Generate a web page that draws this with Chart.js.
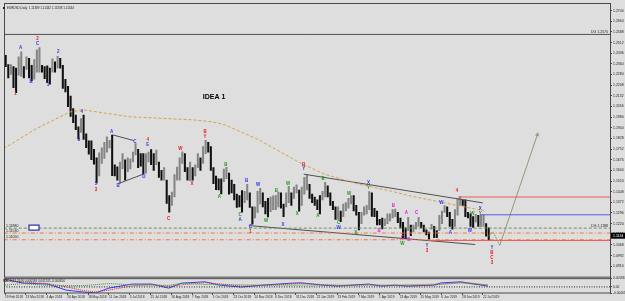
<!DOCTYPE html>
<html>
<head>
<meta charset="utf-8">
<script src="https://cdn.jsdelivr.net/npm/chart.js@4.4.1/dist/chart.umd.min.js"></script>
<style>
  html, body { margin: 0; padding: 0; overflow: hidden; background: #dedede; }
  canvas { display: block; }
</style>
</head>
<body>
<canvas id="chart" width="625" height="304"></canvas>
<script>
// EURUSD daily, every bar here = 2 trading days (high / low)
const barHighs = [
  1.2420,1.2355,1.2355,1.2340,1.2330,1.2410,1.2446,1.2340,1.2410,1.2400,
  1.2350,1.2390,1.2460,1.2476,1.2350,1.2340,1.2345,1.2330,1.2396,1.2375,
  1.2414,1.2400,1.2350,1.2250,1.2200,1.2130,1.2040,1.1995,1.1910,1.1970,
  1.1995,1.1860,1.1810,1.1810,1.1750,1.1690,1.1725,1.1760,1.1800,1.1840,
  1.1815,1.1852,1.1640,1.1625,1.1660,1.1720,1.1675,1.1690,1.1680,1.1730,
  1.1791,1.1750,1.1720,1.1720,1.1720,1.1730,1.1748,1.1720,1.1745,1.1660,
  1.1600,1.1620,1.1530,1.1420,1.1445,1.1570,1.1623,1.1690,1.1733,1.1720,
  1.1620,1.1660,1.1620,1.1640,1.1720,1.1690,1.1770,1.1815,1.1800,1.1770,
  1.1620,1.1560,1.1540,1.1540,1.1610,1.1621,1.1580,1.1530,1.1500,1.1430,
  1.1420,1.1455,1.1450,1.1500,1.1440,1.1340,1.1340,1.1450,1.1472,1.1440,
  1.1380,1.1400,1.1410,1.1419,1.1420,1.1445,1.1440,1.1360,1.1440,1.1486,
  1.1440,1.1480,1.1497,1.1460,1.1480,1.1550,1.1570,1.1500,1.1430,1.1410,
  1.1390,1.1420,1.1450,1.1514,1.1490,1.1440,1.1380,1.1340,1.1340,1.1310,
  1.1360,1.1370,1.1400,1.1420,1.1420,1.1350,1.1300,1.1300,1.1340,1.1350,
  1.1448,1.1440,1.1330,1.1310,1.1250,1.1260,1.1255,1.1290,1.1290,1.1320,
  1.1324,1.1300,1.1260,1.1230,1.1190,1.1265,1.1210,1.1210,1.1230,1.1265,
  1.1230,1.1210,1.1175,1.1160,1.1215,1.1200,1.1170,1.1280,1.1310,1.1348,
  1.1340,1.1300,1.1250,1.1320,1.1400,1.1412,1.1390,1.1390,1.1300,1.1290,
  1.1270,1.1286,1.1280,1.1280,1.1282,1.1220,1.1190
];
const barLows = [
  1.2340,1.2260,1.2285,1.2190,1.2155,1.2280,1.2270,1.2260,1.2320,1.2260,
  1.2240,1.2250,1.2300,1.2300,1.2300,1.2255,1.2225,1.2215,1.2300,1.2300,
  1.2330,1.2330,1.2185,1.2160,1.2055,1.1985,1.1940,1.1890,1.1823,1.1870,
  1.1820,1.1762,1.1716,1.1676,1.1645,1.1510,1.1560,1.1650,1.1685,1.1730,
  1.1760,1.1562,1.1560,1.1530,1.1508,1.1610,1.1530,1.1590,1.1610,1.1660,
  1.1710,1.1620,1.1630,1.1575,1.1580,1.1660,1.1640,1.1600,1.1640,1.1550,
  1.1530,1.1530,1.1365,1.1301,1.1350,1.1410,1.1530,1.1530,1.1650,1.1590,
  1.1530,1.1527,1.1530,1.1560,1.1620,1.1600,1.1650,1.1720,1.1730,1.1600,
  1.1505,1.1463,1.1460,1.1432,1.1520,1.1540,1.1430,1.1440,1.1390,1.1335,
  1.1340,1.1302,1.1370,1.1390,1.1335,1.1216,1.1260,1.1300,1.1360,1.1340,
  1.1290,1.1267,1.1305,1.1320,1.1320,1.1340,1.1330,1.1269,1.1340,1.1370,
  1.1350,1.1400,1.1440,1.1309,1.1350,1.1430,1.1460,1.1400,1.1370,1.1350,
  1.1320,1.1289,1.1390,1.1410,1.1410,1.1350,1.1320,1.1250,1.1250,1.1234,
  1.1270,1.1310,1.1330,1.1360,1.1310,1.1280,1.1176,1.1220,1.1280,1.1290,
  1.1320,1.1272,1.1270,1.1210,1.1210,1.1183,1.1205,1.1220,1.1240,1.1260,
  1.1270,1.1226,1.1190,1.1120,1.1111,1.1170,1.1135,1.1160,1.1180,1.1200,
  1.1190,1.1160,1.1140,1.1107,1.1180,1.1120,1.1120,1.1170,1.1220,1.1300,
  1.1270,1.1200,1.1181,1.1200,1.1280,1.1350,1.1350,1.1270,1.1260,1.1200,
  1.1193,1.1230,1.1200,1.1200,1.1200,1.1130,1.1101
];
const lastPrice = 1.1134;

const yTicks = [1.2740,1.2664,1.2588,1.2512,1.2436,1.2360,1.2284,1.2208,1.2132,1.2056,
  1.1980,1.1904,1.1828,1.1752,1.1676,1.1600,1.1524,1.1448,1.1372,1.1296,
  1.1220,1.1144,1.1068,1.0992,1.0916];
const xTickDays = [0,16,32,48,64,80,96,112,128,144,160,176,192,208,224,240,256,272,288,304,320,336,352,368];
const xTickLabels = ['19 Feb 2018','13 Mar 2018','4 Apr 2018','26 Apr 2018','18 May 2018','11 Jun 2018',
  '3 Jul 2018','25 Jul 2018','16 Aug 2018','7 Sep 2018','1 Oct 2018','23 Oct 2018','14 Nov 2018',
  '6 Dec 2018','31 Dec 2018','22 Jan 2019','13 Feb 2019','7 Mar 2019','1 Apr 2019','23 Apr 2019',
  '15 May 2019','6 Jun 2019','28 Jun 2019','22 Jul 2019'];

// moving average (dashed)
const maDays = [-1,24,50,60,96,144,159,169,195,228,246,272,297,312,369];
const maValues = [1.1756,1.1897,1.2017,1.2032,1.1982,1.1961,1.1947,1.1926,1.1820,1.1650,1.1573,1.1502,1.1453,1.1418,1.1311];

// horizontal levels
const levelPrices = [1.2570,1.1188,1.1153,1.1105,1.1410,1.1283,1.1100];
const levelFrom = [-1,-1,-1,-1,349,366,326];

// trend lines
const upperTrendDays = [230,368], upperTrendVals = [1.1573,1.1368];
const lowerTrendDays = [188,362], lowerTrendVals = [1.1206,1.1071];
const acDays = [83,99], acVals = [1.1853,1.1813];
const bdDays = [87,107], bdVals = [1.1504,1.1575];
const projDays = [372,376,381], projVals = [1.1130,1.1160,1.1065];
const arrowDays = [381,410], arrowVals = [1.1065,1.1855];

// indicator window
const macdDays = [0,14,33,47,60,70,80,98,113,126,136,154,165,182,198,221,228,244,257,267,280,290,300,310,330,336,351,361,372];
const macdMain = [0.0050,0.0025,0.0019,-0.0021,-0.0034,-0.0040,-0.0008,0.0019,0.0019,-0.0008,0.0025,0.0034,0.0012,-0.0001,0.0012,
  0.0025,0.0027,0.0012,0.0005,0.0012,0.0019,0.0005,0.0012,0.0005,0.0012,0.0027,0.0034,0.0019,0.0005];
const macdSignal = [0.0048,0.0032,0.0022,0.0001,-0.0024,-0.0034,-0.0021,0.0007,0.0016,0.0003,0.0014,0.0028,0.0021,0.0005,0.0008,
  0.0020,0.0024,0.0016,0.0009,0.0010,0.0015,0.0010,0.0010,0.0008,0.0010,0.0018,0.0030,0.0024,0.0012];
const oscDays = [0,14,33,60,80,98,126,136,154,200,260,300,340,351,372];
const oscValues = [0.0012,0.0022,0.0010,0.0008,0.0022,0.0014,0.0010,0.0024,0.0016,0.0012,0.0012,0.0012,0.0020,0.0026,0.0012];
const indTicks = [0.005818, 0, -0.00405];
const indTickLabels = ['0.005818', '0.00', '-0.00405'];

// wave marks: day, price, text, degree
const waveLabels = [
  [8,1.2144,'1','r'],[12,1.2476,'A','b'],[20,1.2229,'B','b'],[25,1.2540,'2','r'],[25,1.2505,'C','b'],
  [33,1.2208,'1','b'],[41,1.2448,'2','b'],[57,1.1820,'3','b'],[59,1.2017,'4','b'],[70,1.1502,'5','b'],
  [70,1.1460,'3','r'],[82,1.1876,'A','b'],[87,1.1488,'B','b'],[100,1.1806,'C','b'],[107,1.1551,'D','b'],
  [110,1.1820,'4','r'],[110,1.1784,'E','b'],[126,1.1255,'C','r'],[135,1.1756,'W','r'],[144,1.1502,'X','r'],
  [154,1.1876,'B','r'],[154,1.1841,'Y','r'],[165,1.1410,'A','g'],[170,1.1643,'B','g'],[181,1.1283,'C','g'],
  [181,1.1248,'A','b'],[186,1.1523,'B','b'],[189,1.1198,'C','b'],[189,1.1163,'1','r'],[195,1.1495,'W','b'],
  [201,1.1241,'W','g'],[209,1.1453,'B','g'],[214,1.1213,'X','b'],[218,1.1502,'W','g'],[225,1.1290,'X','g'],
  [230,1.1643,'B','r'],[230,1.1608,'Y','b'],[241,1.1276,'A','g'],[245,1.1537,'B','g'],[257,1.1227,'C','g'],
  [257,1.1191,'W','b'],[265,1.1432,'W','g'],[270,1.1156,'X','g'],[280,1.1509,'X','b'],[280,1.1474,'Y','g'],
  [288,1.1170,'B','m'],[299,1.1347,'B','m'],[306,1.1121,'C','m'],[306,1.1078,'W','g'],[309,1.1297,'A','m'],
  [311,1.1107,'B','m'],[317,1.1297,'C','m'],[325,1.1064,'Y','b'],[325,1.1029,'3','r'],[336,1.1368,'W','b'],
  [343,1.1156,'A','b'],[348,1.1453,'4','r'],[358,1.1170,'W','b'],[360,1.1290,'W','g'],[366,1.1326,'X','b'],
  [366,1.1290,'Y','g'],[375,1.1050,'Y','b'],[375,1.1015,'B','r'],[375,1.0980,'C','r'],[375,1.0944,'3','r']
];
const idea = { day: 161, price: 1.2123, text: 'IDEA 1' };

const xMin = -0.8, xMax = 465.9;
const yMin = 1.0831, yMax = 1.2787;
const indMin = -0.00405, indMax = 0.005818;
const degreeColor = { r: '#e02020', b: '#3434f0', g: '#1f9a1f', m: '#e020e0' };

const pts = (days, vals) => days.map((d, i) => ({ x: d, y: vals[i] }));
function lineDs(data, color, dash, axis, width) {
  return {
    type: 'line', data, borderColor: color, borderWidth: width || 1, borderDash: dash || [],
    pointRadius: 0, tension: 0, fill: false, xAxisID: 'x', yAxisID: axis || 'y', order: 1
  };
}

const bars = barHighs.map((h, i) => ({ x: i * 2 + 0.5, y: [barLows[i], h] }));
const barColors = barHighs.map((h, i) => {
  if (i === 0) return '#111';
  const m = (h + barLows[i]) / 2, pm = (barHighs[i - 1] + barLows[i - 1]) / 2;
  return m >= pm ? '#858585' : '#111';
});

const levelStyle = [
  ['#505050', []], ['#6f8f6f', [3, 2]], ['#f07838', [4, 2, 1, 2]], ['#f07838', [4, 2, 1, 2]],
  ['#e85858', []], ['#5a5ae8', []], ['#e85858', []]
];
const levelSets = levelPrices.map((p, i) =>
  lineDs([{ x: levelFrom[i], y: p }, { x: xMax, y: p }], levelStyle[i][0], levelStyle[i][1]));

const arrow = lineDs(pts(arrowDays, arrowVals), '#8c9c7c');
arrow.pointRadius = c => (c.dataIndex === arrowDays.length - 1 ? 2.5 : 0);
arrow.pointStyle = 'triangle';
arrow.pointRotation = 16;
arrow.pointBackgroundColor = '#8c9c7c';
arrow.pointBorderWidth = 0;

const panels = {
  id: 'panels',
  beforeDraw(chart) {
    const c = chart.ctx;
    c.save();
    c.fillStyle = '#dedede';
    c.fillRect(0, 0, chart.width, chart.height);
    c.restore();
  },
  afterDatasetsDraw(chart) {
    const { ctx: c, scales: { x, y, y2 } } = chart;
    c.save();
    // frames
    c.strokeStyle = '#4a4a4a';
    c.lineWidth = 1;
    c.strokeRect(x.left + 0.5, y.top - 0.5, x.right - x.left, y.bottom - y.top - 0.5);
    c.strokeRect(x.left + 0.5, y2.top + 0.5, x.right - x.left, y2.bottom - y2.top - 0.5);

    // wave marks
    c.textAlign = 'center';
    c.textBaseline = 'middle';
    c.font = 'bold 4.5px "Liberation Sans"';
    waveLabels.forEach(([d, p, t, g]) => {
      c.fillStyle = degreeColor[g];
      c.fillText(t, x.getPixelForValue(d), y.getPixelForValue(p));
    });
    c.fillStyle = '#000';
    c.font = 'bold 7px "Liberation Sans"';
    c.fillText(idea.text, x.getPixelForValue(idea.day), y.getPixelForValue(idea.price));

    // headers
    c.textAlign = 'left';
    c.font = '3px "Liberation Sans"';
    c.fillStyle = '#222';
    c.fillText('EURUSD,Daily  1.11389 1.11432 1.11338 1.11344', 7, y.top + 4);
    c.fillRect(3, y.top + 3, 2, 2);
    c.fillText('MACD(12,26,9) 0.000549 0.001205 -0.000656', 3, y2.top + 3);

    // level captions
    c.textAlign = 'right';
    c.textBaseline = 'bottom';
    c.font = '3.5px "Liberation Sans"';
    [0, 1].forEach(i => {
      c.fillText('DG ' + levelPrices[i].toFixed(4), x.right - 2, y.getPixelForValue(levelPrices[i]) - 0.5);
    });
    c.textAlign = 'left';
    [1, 2, 3].forEach(i => {
      c.fillText(levelPrices[i].toFixed(5), x.left + 2, y.getPixelForValue(levelPrices[i]) - 0.5);
    });
    const by = y.getPixelForValue(levelPrices[1]);
    c.fillStyle = '#fff';
    c.fillRect(x.left + 25, by - 3, 10, 5);
    c.strokeStyle = '#2a2aa8';
    c.lineWidth = 1.2;
    c.strokeRect(x.left + 25, by - 3, 10, 5);
    c.restore();
  },
  afterDraw(chart) {
    const { ctx: c, scales: { y } } = chart;
    const py = y.getPixelForValue(lastPrice);
    c.save();
    c.fillStyle = '#000';
    c.fillRect(y.left + 1, py - 3, chart.width - y.left, 6);
    c.fillStyle = '#fff';
    c.font = '3.5px "Liberation Sans"';
    c.textBaseline = 'middle';
    c.fillText(lastPrice.toFixed(4), y.left + 3, py);
    c.restore();
  }
};

new Chart(document.getElementById('chart'), {
  type: 'bar',
  data: {
    datasets: [
      { type: 'bar', data: bars, backgroundColor: barColors, borderWidth: 0, barThickness: 1.4,
        grouped: false, xAxisID: 'x', yAxisID: 'y', order: 2 },
      lineDs(pts(maDays, maValues), '#d4a24c', [3, 2]),
      ...levelSets,
      lineDs(pts(upperTrendDays, upperTrendVals), '#505050'),
      lineDs(pts(lowerTrendDays, lowerTrendVals), '#505050'),
      lineDs(pts(acDays, acVals), '#505050'),
      lineDs(pts(bdDays, bdVals), '#505050'),
      lineDs(pts(projDays, projVals), '#3f9a2f', [1, 1]),
      arrow,
      lineDs([{ x: xMin, y: 0 }, { x: xMax, y: 0 }], '#222', [1, 1.5], 'y2'),
      lineDs(pts(oscDays, oscValues), '#2a9a2a', [1, 1], 'y2'),
      lineDs(pts(macdDays, macdSignal), '#e03030', [1, 1], 'y2'),
      lineDs(pts(macdDays, macdMain), '#3a3aff', [], 'y2')
    ]
  },
  options: {
    responsive: false,
    animation: false,
    devicePixelRatio: 1,
    layout: { padding: { top: 1, left: 1, right: 0, bottom: 0 } },
    plugins: { legend: { display: false }, tooltip: { enabled: false } },
    scales: {
      x: {
        type: 'linear', min: xMin, max: xMax, offset: false, position: 'bottom',
        grid: { display: true, drawOnChartArea: false, tickLength: 2, color: '#555', offset: false },
        border: { display: false },
        ticks: {
          autoSkip: false, maxRotation: 0, minRotation: 0, align: 'start', padding: 0,
          font: { size: 3.2, family: 'Liberation Sans' }, color: '#222',
          callback: (v, i) => xTickLabels[i]
        },
        afterBuildTicks: s => { s.ticks = xTickDays.map(v => ({ value: v })); },
        afterFit: s => { s.height = 11; }
      },
      y: {
        type: 'linear', position: 'right', stack: 'panes', stackWeight: 277, min: yMin, max: yMax,
        grid: { display: true, drawOnChartArea: false, tickLength: 2, color: '#444' },
        border: { display: true, color: '#444' },
        ticks: {
          autoSkip: false, padding: 1, font: { size: 3.5, family: 'Liberation Sans' }, color: '#222',
          callback: v => v.toFixed(4)
        },
        afterBuildTicks: s => { s.ticks = yTicks.map(v => ({ value: v })); },
        afterFit: s => { s.width = 15; }
      },
      y2: {
        type: 'linear', position: 'right', stack: 'panes', stackWeight: 15, min: indMin, max: indMax,
        grid: { display: true, drawOnChartArea: false, tickLength: 2, color: '#444' },
        border: { display: true, color: '#444' },
        ticks: {
          autoSkip: false, padding: 1, font: { size: 3.2, family: 'Liberation Sans' }, color: '#222',
          callback: (v, i) => indTickLabels[i]
        },
        afterBuildTicks: s => { s.ticks = indTicks.map(v => ({ value: v })); },
        afterFit: s => { s.width = 15; }
      }
    }
  },
  plugins: [panels]
});
</script>
</body>
</html>
